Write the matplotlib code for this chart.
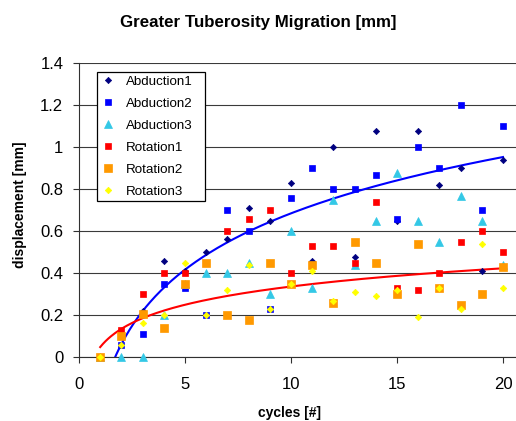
import numpy as np
import matplotlib
matplotlib.use("Agg")
import matplotlib.pyplot as plt
from matplotlib.ticker import FuncFormatter

plt.rcParams['font.family'] = ['Liberation Sans', 'DejaVu Sans']

cycles = list(range(1, 21))
abduction1 = [0, 0.06, 0.22, 0.46, 0.41, 0.50, 0.565, 0.71, 0.65, 0.83,
              0.46, 1.00, 0.48, 1.08, 0.65, 1.08, 0.82, 0.90, 0.41, 0.94]
abduction2 = [0, 0.06, 0.113, 0.35, 0.33, 0.20, 0.70, 0.60, 0.23, 0.76,
              0.90, 0.80, 0.80, 0.87, 0.66, 1.00, 0.90, 1.20, 0.70, 1.10]
abduction3 = [0, 0, 0, 0.20, 0.35, 0.40, 0.40, 0.45, 0.30, 0.60,
              0.33, 0.75, 0.44, 0.65, 0.88, 0.65, 0.55, 0.77, 0.65, 0.44]
rotation1 = [0, 0.13, 0.30, 0.40, 0.40, 0.45, 0.60, 0.66, 0.70, 0.40,
             0.53, 0.53, 0.45, 0.74, 0.33, 0.32, 0.40, 0.55, 0.60, 0.50]
rotation2 = [0, 0.10, 0.205, 0.14, 0.35, 0.45, 0.20, 0.18, 0.45, 0.35,
             0.44, 0.26, 0.55, 0.45, 0.30, 0.54, 0.33, 0.25, 0.30, 0.43]
rotation3 = [0, 0.06, 0.165, 0.20, 0.45, 0.20, 0.32, 0.44, 0.23, 0.35,
             0.41, 0.27, 0.31, 0.29, 0.32, 0.19, 0.33, 0.23, 0.54, 0.33]

series_names = ["Abduction1", "Abduction2", "Abduction3",
                "Rotation1", "Rotation2", "Rotation3"]
x_ticks = [0, 5, 10, 15, 20]
y_ticks = [0, 0.2, 0.4, 0.6, 0.8, 1.0, 1.2, 1.4]

W, H = 516, 421
fig = plt.figure(figsize=(W / 100, H / 100), dpi=100)
ax = fig.add_axes([79 / W, 1 - 357.3 / H, 1 - 79 / W, (357.3 - 63.3) / H])

styles = [
    dict(marker='D', color='#000080', ms=3.2),
    dict(marker='s', color='#0000FF', ms=4.3),
    dict(marker='^', color='#33C8E6', ms=5.2),
    dict(marker='s', color='#FF0000', ms=5.0),
    dict(marker='s', color='#FF9900', ms=6.2),
    dict(marker='D', color='#FFFF00', ms=3.3),
]
data = [abduction1, abduction2, abduction3, rotation1, rotation2, rotation3]

for name, vals, st in zip(series_names, data, styles):
    ax.plot(cycles, vals, ls='none', marker=st['marker'], ms=st['ms'],
            color=st['color'], mec=st['color'], mew=0.5, label=name,
            clip_on=False, zorder=3)

# logarithmic trend lines (Excel style) for Abduction2 and Rotation2
xs = np.linspace(min(cycles), max(cycles), 300)
for vals, col in [(abduction2, '#0000FF'), (rotation2, '#FF0000')]:
    a, b = np.polyfit(np.log(cycles), vals, 1)
    ax.plot(xs, a * np.log(xs) + b, color=col, lw=1.5, zorder=2.5)

ax.set_xlim(0, (W - 79) / 21.2)
ax.set_ylim(0, 1.4)
ax.set_xticks(x_ticks)
ax.set_yticks(y_ticks)
ax.yaxis.set_major_formatter(FuncFormatter(lambda v, p: f"{v:g}"))
ax.grid(axis='y', color='#3a3a3a', lw=0.8)
ax.set_axisbelow(True)
for s in ['top', 'right']:
    ax.spines[s].set_visible(False)
for s in ['left', 'bottom']:
    ax.spines[s].set_color('#303030')
    ax.spines[s].set_linewidth(0.8)
ax.tick_params(axis='both', direction='out', length=4.3, width=0.8,
               color='#303030', labelsize=12)
ax.tick_params(axis='y', pad=7)
ax.tick_params(axis='x', pad=10)

fig.text(0.5, 1 - 22 / H, "Greater Tuberosity Migration [mm]",
         ha='center', va='center', fontsize=12.2, fontweight='bold')
fig.text(290 / W, 1 - 413 / H, "cycles [#]", ha='center', va='center',
         fontsize=10, fontweight='bold')
fig.text(20 / W, 1 - 205 / H, "displacement [mm]", ha='center',
         va='center', rotation=90, fontsize=10, fontweight='bold')

leg = ax.legend(loc='upper left',
                bbox_to_anchor=(97 / W, 1 - 201 / H, 108 / W, 129 / H),
                bbox_transform=fig.transFigure, mode='expand',
                borderaxespad=0, borderpad=0.25, labelspacing=0.73,
                handlelength=1.2, handletextpad=0.7, fontsize=9.6,
                fancybox=False, framealpha=1, edgecolor='black',
                numpoints=1)
leg.get_frame().set_linewidth(0.9)

fig.savefig("out.png", dpi=100)
